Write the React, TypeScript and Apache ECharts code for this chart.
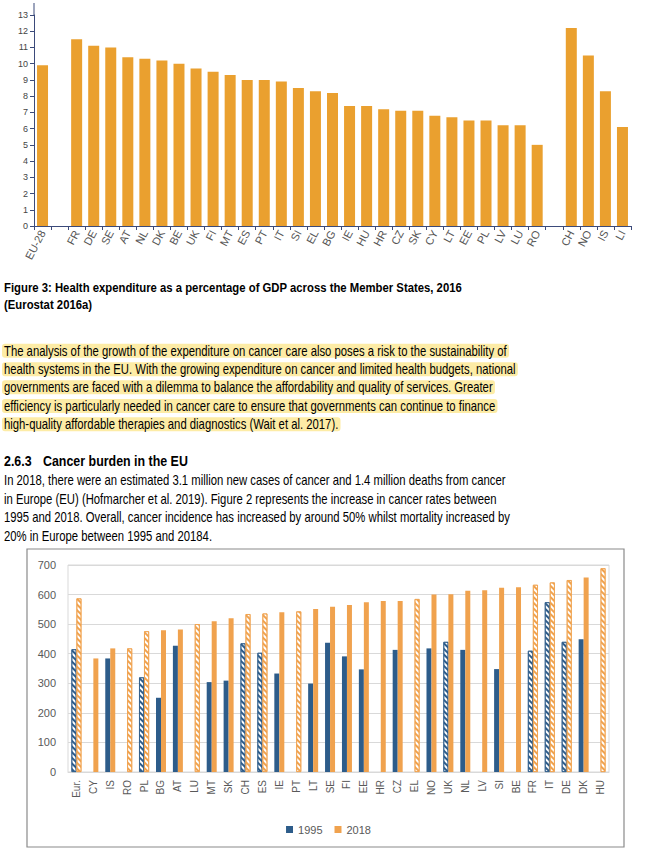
import React, { useEffect, useRef } from 'react';
import * as echarts from 'echarts';

// ---------- Figure 3 data (health expenditure, % of GDP, 2016) ----------
const gdpCountries = ['EU-28', '', 'FR', 'DE', 'SE', 'AT', 'NL', 'DK', 'BE', 'UK', 'FI', 'MT', 'ES', 'PT', 'IT', 'SI', 'EL', 'BG', 'IE', 'HU', 'HR', 'CZ', 'SK', 'CY', 'LT', 'EE', 'PL', 'LV', 'LU', 'RO', '', 'CH', 'NO', 'IS', 'LI'];
const gdpShare: (number | null)[] = [9.9, null, 11.5, 11.1, 11.0, 10.4, 10.3, 10.2, 10.0, 9.7, 9.5, 9.3, 9.0, 9.0, 8.9, 8.5, 8.3, 8.2, 7.4, 7.4, 7.2, 7.1, 7.1, 6.8, 6.7, 6.5, 6.5, 6.2, 6.2, 5.0, null, 12.2, 10.5, 8.3, 6.1];

// ---------- Cancer rates 1995 vs 2018 ----------
const cancerCountries = ['Eur.', 'CY', 'IS', 'RO', 'PL', 'BG', 'AT', 'LU', 'MT', 'SK', 'CH', 'ES', 'IE', 'PT', 'LT', 'SE', 'FI', 'EE', 'HR', 'CZ', 'EL', 'NO', 'UK', 'NL', 'LV', 'SI', 'BE', 'FR', 'IT', 'DE', 'DK', 'HU'];
const rates1995: (number | null)[] = [415, null, 384, null, 320, 251, 427, null, 304, 309, 435, 403, 333, null, 299, 437, 391, 347, null, 413, null, 418, 440, 413, null, 348, null, 410, 574, 440, 449, null];
const rates2018: number[] = [587, 384, 418, 418, 476, 479, 482, 500, 510, 520, 534, 536, 540, 543, 551, 559, 565, 574, 578, 578, 585, 600, 601, 613, 615, 623, 625, 633, 641, 649, 658, 689];
const hatched1995 = ['Eur.', 'PL', 'CH', 'ES', 'UK', 'FR', 'IT', 'DE'];
const hatched2018 = ['Eur.', 'RO', 'PL', 'LU', 'CH', 'ES', 'PT', 'EL', 'FR', 'IT', 'DE', 'HU'];
const legendNames = ['1995', '2018'];

// ---------- Page text ----------
const captionLines = [
  'Figure 3: Health expenditure as a percentage of GDP across the Member States, 2016',
  '(Eurostat 2016a)',
];
const highlightLines = [
  'The analysis of the growth of the expenditure on cancer care also poses a risk to the sustainability of',
  'health systems in the EU. With the growing expenditure on cancer and limited health budgets, national',
  'governments are faced with a dilemma to balance the affordability and quality of services. Greater',
  'efficiency is particularly needed in cancer care to ensure that governments can continue to finance',
  'high-quality affordable therapies and diagnostics (Wait et al. 2017).',
];
const headingNumber = '2.6.3';
const headingText = 'Cancer burden in the EU';
const bodyLines = [
  'In 2018, there were an estimated 3.1 million new cases of cancer and 1.4 million deaths from cancer',
  'in Europe (EU) (Hofmarcher et al. 2019). Figure 2 represents the increase in cancer rates between',
  '1995 and 2018. Overall, cancer incidence has increased by around 50% whilst mortality increased by',
  '20% in Europe between 1995 and 20184.',
];

const FONT = '"Liberation Sans", Arial, Helvetica, sans-serif';
const GOLD = '#EAA02F';
const BLUE = '#2D5C8A';
const ORANGE = '#F0A24E';
const AXIS = '#3b4a7a';

let measureCtx: CanvasRenderingContext2D | null = null;
function measure(text: string, font: string): number {
  if (!measureCtx) measureCtx = document.createElement('canvas').getContext('2d');
  if (!measureCtx) return text.length * 6;
  measureCtx.font = font;
  return measureCtx.measureText(text).width;
}

function textBlock(lines: string[], ys: number[], x: number, size: number, weight: string, targetWidth: number, highlight?: string) {
  const font = `${weight} ${size}px ${FONT}`;
  const scale = targetWidth / measure(lines[0], font);
  const els: any[] = [];
  lines.forEach((t, i) => {
    const w = measure(t, font) * scale;
    if (highlight) {
      els.push({
        type: 'rect', silent: true, z: 1,
        shape: { x: x - 2, y: ys[i] - 7, width: w + 4, height: 14, r: 3 },
        style: { fill: highlight },
      });
    }
    els.push({
      type: 'text', silent: true, z: 2, x, y: ys[i], scaleX: scale,
      style: { text: t, x: 0, y: 0, fill: '#000', font, textVerticalAlign: 'middle', verticalAlign: 'middle', textAlign: 'left', align: 'left' },
    });
  });
  return { els, scale };
}

function hatch(color: string) {
  return {
    color: '#ffffff',
    borderColor: color,
    borderWidth: 0.8,
    decal: { symbol: 'rect', symbolSize: 1, color, dashArrayX: [1, 0], dashArrayY: [1.6, 1.6], rotation: Math.PI / 4 },
  };
}

export default function App() {
  const ref = useRef<HTMLDivElement>(null);
  useEffect(() => {
    if (!ref.current) return;
    const chart = echarts.init(ref.current, undefined, { renderer: 'svg' });

    const caption = textBlock(captionLines, [288, 305], 4, 13, 'bold', 458);
    const para1 = textBlock(highlightLines, [350.7, 369.3, 387.3, 406, 424.3], 4, 14, 'normal', 503, '#FDECA6');
    const headFont = `bold 15px ${FONT}`;
    const headScale = 145 / measure(headingText, headFont);
    const para2 = textBlock(bodyLines, [480, 499.3, 517.3, 536], 4, 14, 'normal', 502);

    const graphic: any[] = [
      ...caption.els,
      ...para1.els,
      {
        type: 'text', silent: true, z: 2, x: 4, y: 460.7, scaleX: headScale,
        style: { text: headingNumber, x: 0, y: 0, fill: '#000', font: headFont, textVerticalAlign: 'middle', verticalAlign: 'middle' },
      },
      {
        type: 'text', silent: true, z: 2, x: 43, y: 460.7, scaleX: headScale,
        style: { text: headingText, x: 0, y: 0, fill: '#000', font: headFont, textVerticalAlign: 'middle', verticalAlign: 'middle' },
      },
      ...para2.els,
      {
        type: 'rect', silent: true, z: 0,
        shape: { x: 27, y: 549, width: 597, height: 298 },
        style: { fill: 'none', stroke: '#8a8a8a', lineWidth: 1.2 },
      },
      {
        type: 'line', silent: true, z: 3,
        shape: { x1: 34, y1: 3, x2: 34, y2: 15 },
        style: { stroke: AXIS, lineWidth: 1 },
      },
    ];

    const s1995 = rates1995.map((v, i) =>
      v == null ? '-' : hatched1995.includes(cancerCountries[i]) ? { value: v, itemStyle: hatch(BLUE) } : v);
    const s2018 = rates2018.map((v, i) =>
      hatched2018.includes(cancerCountries[i]) ? { value: v, itemStyle: hatch(ORANGE) } : v);

    const option: any = {
      animation: false,
      backgroundColor: '#ffffff',
      textStyle: { fontFamily: FONT },
      graphic,
      grid: [
        { left: 34, right: 26, top: 15, bottom: 857 - 226 },
        { left: 68, right: 48, top: 565, bottom: 857 - 772, show: true, borderColor: '#D9D9D9', borderWidth: 1, backgroundColor: 'transparent' },
      ],
      xAxis: [
        {
          type: 'category', gridIndex: 0, data: gdpCountries,
          axisLine: { lineStyle: { color: AXIS, width: 1 } },
          axisTick: { show: true, length: 4, interval: 0, lineStyle: { color: AXIS } },
          axisLabel: { interval: 0, rotate: 62, fontSize: 11, color: '#555', margin: 5 },
        },
        {
          type: 'category', gridIndex: 1, data: cancerCountries,
          axisLine: { lineStyle: { color: '#D9D9D9' } },
          axisTick: { show: false },
          axisLabel: { interval: 0, rotate: 90, fontSize: 10, color: '#595959', margin: 8 },
        },
      ],
      yAxis: [
        {
          type: 'value', gridIndex: 0, min: 0, max: 13, interval: 1,
          axisLine: { show: true, lineStyle: { color: AXIS } },
          axisTick: { show: true, length: 4, lineStyle: { color: AXIS } },
          splitLine: { show: false },
          axisLabel: { fontSize: 9, color: '#444', margin: 6 },
        },
        {
          type: 'value', gridIndex: 1, min: 0, max: 700, interval: 100,
          axisLine: { show: false }, axisTick: { show: false },
          splitLine: { lineStyle: { color: '#D9D9D9' } },
          axisLabel: { fontSize: 11, color: '#595959', margin: 12 },
        },
      ],
      legend: {
        data: legendNames, top: 819, left: 'center', icon: 'rect',
        itemWidth: 7, itemHeight: 7, itemGap: 12,
        textStyle: { fontSize: 11, color: '#595959' },
      },
      series: [
        {
          name: 'Health expenditure (% of GDP)', type: 'bar', xAxisIndex: 0, yAxisIndex: 0,
          data: gdpShare.map((v) => (v == null ? '-' : v)), barWidth: 11,
          itemStyle: { color: GOLD },
        },
        {
          name: legendNames[0], type: 'bar', xAxisIndex: 1, yAxisIndex: 1,
          data: s1995, barWidth: 5, barGap: '0%', itemStyle: { color: BLUE },
        },
        {
          name: legendNames[1], type: 'bar', xAxisIndex: 1, yAxisIndex: 1,
          data: s2018, barWidth: 5, barGap: '0%', itemStyle: { color: ORANGE },
        },
      ],
    };
    chart.setOption(option);
    return () => chart.dispose();
  }, []);
  return <div ref={ref} style={{ position: 'fixed', left: 0, top: 0, width: 657, height: 857, background: '#fff' }} />;
}
